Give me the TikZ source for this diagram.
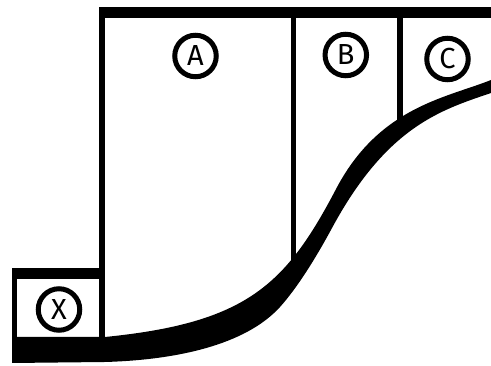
\documentclass[tikz,border=0pt]{standalone}
\usepackage{fontspec}
\setsansfont{Fira Sans}
\usepackage{tikz}

\begin{document}
\begin{tikzpicture}[x=1pt, y=1pt,
		wall/.style={line width=5.5pt},
		slab/.style={fill=black}]
	\useasboundingbox (0,0) rectangle (491,366);
	% walls and slabs
	\fill[slab] (99,348) rectangle (491,359);
	\fill[slab] (12,87) rectangle (105,98);
	\fill[slab] (12,3) rectangle (17,98);
	\draw[wall, line width=6.5pt] (102,29) -- (102,350);
	\draw[wall, line width=4.8pt] (293.2,100) -- (293.2,350);
	\draw[wall] (400,244) -- (400,350);
	% curved floor
	\fill[slab] (12,3) -- (12,29) -- (105,29)
		.. controls (245,43) and (285,80) .. (335,175)
		.. controls (378,259) and (446,268) .. (491,286)
		-- (491,273)
		.. controls (441,256) and (387,239.75) .. (332,138)
		.. controls (315,106.5) and (297,78) .. (280,59)
		.. controls (245,20.5) and (175,6) .. (105,4)
		-- cycle;
	% labels
	\begin{scope}[every node/.style={circle, draw, line width=5pt, minimum size=41.5pt,
			inner sep=0pt, font=\sffamily\fontsize{29}{29}\selectfont}]
		\node (A) at (195.5,310) {A};
		\node (B) at (345.8,311) {B};
		\node (C) at (447.5,307) {C};
		\node (X) at (59,56.5) {X};
	\end{scope}
\end{tikzpicture}
\end{document}
